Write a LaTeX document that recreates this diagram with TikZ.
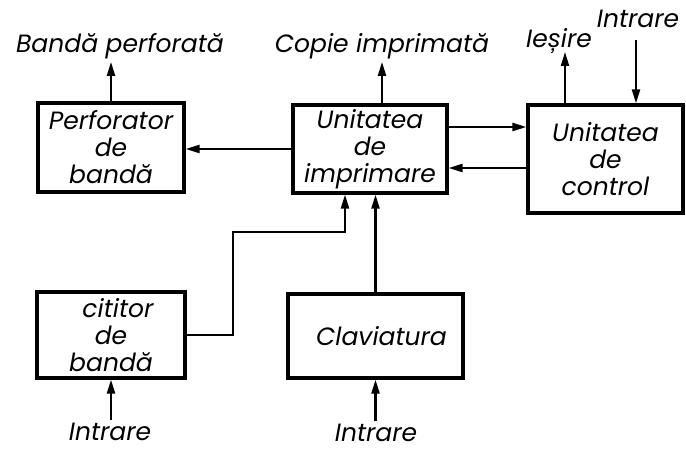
\documentclass[tikz,border=0pt]{standalone}
\usepackage{fontspec}
\setmainfont{Poppins}
\usetikzlibrary{arrows.meta}
\begin{document}
\begin{tikzpicture}[x=0.5pt, y=-0.5pt,
  every node/.style={font=\itshape\fontsize{12.5}{13.5}\selectfont},
  block/.style={draw=black, line width=1.6pt, align=center, inner sep=0pt},
  label/.style={anchor=base, inner sep=1pt},
  arr/.style={line width=1.1pt, -{Stealth[length=7pt, width=4pt, inset=0pt]}}]
\useasboundingbox (0,0) rectangle (686,449);
\node [block, minimum width=73pt, minimum height=44.5pt] (perf) at (111,147.5) {Perforator\\de\\bandă};
\node [block, minimum width=77pt, minimum height=44pt] (imp) at (370,149) {Unitatea\\de\\imprimare};
\node [block, minimum width=77.5pt, minimum height=54pt] (ctrl) at (605.5,159) {Unitatea\\de\\control};
\node [block, minimum width=74pt, minimum height=43pt] (cit) at (111,335) {\hspace{7pt}cititor\\de\\bandă};
\node [block, minimum width=87.5pt, minimum height=42pt] (clav) at (375.5,336) {\hspace{6pt}Claviatura};
\node [label] (lbanda) at (120,53) {Bandă perforată};
\node [label] (lcopie) at (382,53) {Copie imprimată};
\node [label] (lies) at (559,48) {Ieșire};
\node [label] (lin3) at (638,28) {Intrare};
\node [label] (lin1) at (110,440) {Intrare};
\node [label] (lin2) at (376,441) {Intrare};
\coordinate (iesout) at (565,52);
\coordinate (ctrlin) at (636,40);
\coordinate (bend) at (233,232);
\coordinate (citup) at (345,232);
\draw [arr] (perf) -- (perf |- lbanda.south);
\draw [arr] (imp.north -| lcopie) -- (lcopie.south);
\draw [arr] (ctrl.north -| iesout) -- (iesout);
\draw [arr] (ctrlin) -- (ctrlin |- ctrl.north);
\draw [arr] (imp.west) -- (imp.west -| perf.east);
\draw [arr] ([yshift=11pt]imp.east) -- ([yshift=11pt]imp.east -| ctrl.west);
\draw [arr] ([yshift=-9.5pt]imp.east -| ctrl.west) -- ([yshift=-9.5pt]imp.east);
\draw [arr] (cit.east) -| (bend) -- (citup) -- (citup |- imp.south);
\draw [arr] (clav.north) -- (clav.north |- imp.south);
\draw [arr] (cit.south |- lin1.north) -- (cit.south);
\draw [arr] (clav.south |- lin2.north) -- (clav.south);
\end{tikzpicture}
\end{document}
